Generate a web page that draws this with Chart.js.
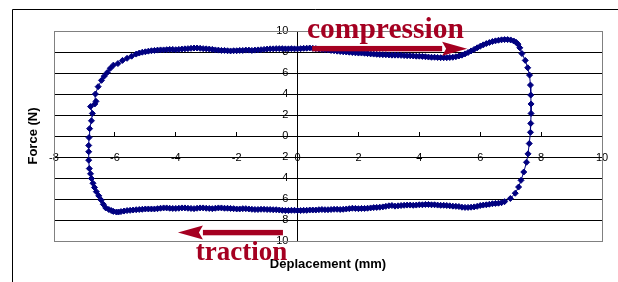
<!DOCTYPE html>
<html>
<head>
<meta charset="utf-8">
<script src="https://cdn.jsdelivr.net/npm/chart.js@4/dist/chart.umd.min.js"></script>
<style>
  body { margin: 0; background: #fff; }
  #wrap { width: 618px; height: 282px; position: relative; }
</style>
</head>
<body>
<div id="wrap"><canvas id="loop_chart"></canvas></div>
<script>
// Loop: compression along the top (left to right),
// down the right side, traction along the bottom (right to left), up the left side
var displacement = [
	0.0, 0.1, 0.2, 0.3, 0.4, 0.5, 0.6, 0.7, 0.8, 0.9,
	1.0, 1.1, 1.2, 1.3, 1.4, 1.5, 1.6, 1.7, 1.8, 1.9,
	2.0, 2.1, 2.2, 2.3, 2.4, 2.5, 2.6, 2.7, 2.8, 2.9,
	3.0, 3.1, 3.2, 3.3, 3.4, 3.5, 3.6, 3.7, 3.8, 3.9,
	4.0, 4.1, 4.2, 4.3, 4.4, 4.5, 4.6, 4.7, 4.8, 4.9,
	5.0, 5.1, 5.2, 5.3, 5.4, 5.5, 5.6, 5.7, 5.8, 5.9,
	6.0, 6.1, 6.2, 6.3, 6.4, 6.5, 6.6, 6.7, 6.8, 6.9,
	7.0, 7.1, 7.18, 7.24,
	7.3, 7.37, 7.48, 7.56, 7.62, 7.65, 7.66, 7.67, 7.67, 7.66, 7.65, 7.61, 7.57, 7.52, 7.43, 7.34, 7.26, 7.15, 6.99, 6.8,
	6.7, 6.6, 6.5, 6.4, 6.3, 6.2, 6.1, 6.0, 5.9, 5.8,
	5.7, 5.6, 5.5, 5.4, 5.3, 5.2, 5.1, 5.0, 4.9, 4.8,
	4.7, 4.6, 4.5, 4.4, 4.3, 4.2, 4.1, 4.0, 3.9, 3.8,
	3.7, 3.6, 3.5, 3.4, 3.3, 3.2, 3.1, 3.0, 2.9, 2.8,
	2.7, 2.6, 2.5, 2.4, 2.3, 2.2, 2.1, 2.0, 1.9, 1.8,
	1.7, 1.6, 1.5, 1.4, 1.3, 1.2, 1.1, 1.0, 0.9, 0.8,
	0.7, 0.6, 0.5, 0.4, 0.3, 0.2, 0.1, 0.0, -0.1, -0.2,
	-0.3, -0.4, -0.5, -0.6, -0.7, -0.8, -0.9, -1.0, -1.1, -1.2,
	-1.3, -1.4, -1.5, -1.6, -1.7, -1.8, -1.9, -2.0, -2.1, -2.2,
	-2.3, -2.4, -2.5, -2.6, -2.7, -2.8, -2.9, -3.0, -3.1, -3.2,
	-3.3, -3.4, -3.5, -3.6, -3.7, -3.8, -3.9, -4.0, -4.1, -4.2,
	-4.3, -4.4, -4.5, -4.6, -4.7, -4.8, -4.9, -5.0, -5.1, -5.2,
	-5.3, -5.4, -5.5, -5.6, -5.7, -5.8, -5.88, -5.95, -6.05, -6.12, -6.2,
	-6.3, -6.38, -6.45, -6.53, -6.61, -6.67, -6.72, -6.77, -6.8, -6.84, -6.86, -6.86, -6.86, -6.85, -6.83, -6.77, -6.74, -6.8, -6.62, -6.66,
	-6.64, -6.55, -6.44, -6.35, -6.25, -6.15, -6.05, -5.9, -5.75, -5.6, -5.45, -5.3,
	-5.2, -5.1, -5.0, -4.9, -4.8, -4.7, -4.6, -4.5, -4.4, -4.3,
	-4.2, -4.1, -4.0, -3.9, -3.8, -3.7, -3.6, -3.5, -3.4, -3.3,
	-3.2, -3.1, -3.0, -2.9, -2.8, -2.7, -2.6, -2.5, -2.4, -2.3,
	-2.2, -2.1, -2.0, -1.9, -1.8, -1.7, -1.6, -1.5, -1.4, -1.3,
	-1.2, -1.1, -1.0, -0.9, -0.8, -0.7, -0.6, -0.5, -0.4, -0.3,
	-0.2, -0.1
];
var force = [
	8.30, 8.32, 8.35, 8.36, 8.38, 8.35, 8.32, 8.28, 8.25, 8.22,
	8.20, 8.15, 8.12, 8.08, 8.05, 8.02, 8.00, 7.98, 7.95, 7.92,
	7.90, 7.90, 7.88, 7.85, 7.82, 7.80, 7.78, 7.76, 7.75, 7.74,
	7.72, 7.70, 7.70, 7.70, 7.68, 7.66, 7.65, 7.64, 7.62, 7.60,
	7.60, 7.58, 7.55, 7.52, 7.50, 7.50, 7.48, 7.46, 7.46, 7.46,
	7.48, 7.50, 7.55, 7.62, 7.70, 7.82, 7.95, 8.10, 8.25, 8.40,
	8.55, 8.68, 8.80, 8.90, 9.00, 9.06, 9.12, 9.16, 9.18, 9.18,
	9.15, 9.05, 8.92, 8.75,
	8.40, 7.85, 7.20, 6.50, 5.80, 4.85, 3.90, 3.05, 2.15, 1.20, 0.35, -0.72, -1.70, -2.50, -3.43, -4.22, -4.86, -5.45, -5.95, -6.25,
	-6.35, -6.40, -6.42, -6.45, -6.50, -6.55, -6.58, -6.62, -6.70, -6.75,
	-6.78, -6.80, -6.80, -6.78, -6.72, -6.70, -6.68, -6.65, -6.62, -6.60,
	-6.60, -6.58, -6.55, -6.55, -6.52, -6.52, -6.55, -6.55, -6.58, -6.60,
	-6.58, -6.58, -6.60, -6.62, -6.65, -6.68, -6.62, -6.65, -6.70, -6.75,
	-6.78, -6.80, -6.82, -6.85, -6.88, -6.90, -6.90, -6.92, -6.90, -6.88,
	-6.92, -6.95, -6.98, -7.00, -6.98, -6.98, -7.00, -7.02, -7.02, -7.00,
	-7.02, -7.05, -7.05, -7.05, -7.08, -7.08, -7.10, -7.10, -7.08, -7.08,
	-7.10, -7.10, -7.08, -7.05, -7.02, -7.02, -7.00, -7.00, -6.98, -6.98,
	-7.00, -7.00, -6.98, -6.95, -6.92, -6.92, -6.95, -6.95, -6.92, -6.90,
	-6.88, -6.88, -6.85, -6.85, -6.88, -6.92, -6.90, -6.88, -6.85, -6.85,
	-6.88, -6.92, -6.90, -6.88, -6.85, -6.85, -6.88, -6.90, -6.90, -6.88,
	-6.85, -6.85, -6.88, -6.92, -6.95, -6.95, -6.95, -6.95, -6.98, -7.00,
	-7.02, -7.05, -7.08, -7.10, -7.15, -7.20, -7.24, -7.24, -7.18, -7.10, -7.00,
	-6.85, -6.50, -6.10, -5.70, -5.30, -4.90, -4.50, -4.05, -3.60, -3.10, -2.30, -1.50, -0.90, -0.15, 0.70, 1.45, 2.15, 2.80, 3.30, 3.05,
	4.00, 4.70, 5.30, 5.70, 6.05, 6.45, 6.75, 6.90, 7.20, 7.40, 7.60, 7.80,
	7.90, 7.98, 8.02, 8.08, 8.12, 8.15, 8.18, 8.20, 8.20, 8.22,
	8.25, 8.25, 8.22, 8.25, 8.28, 8.30, 8.32, 8.35, 8.38, 8.38,
	8.35, 8.32, 8.30, 8.28, 8.25, 8.20, 8.18, 8.15, 8.15, 8.12,
	8.10, 8.12, 8.12, 8.15, 8.15, 8.18, 8.18, 8.15, 8.18, 8.20,
	8.22, 8.25, 8.28, 8.30, 8.30, 8.32, 8.32, 8.32, 8.30, 8.30,
	8.32, 8.30
];

var xTicks = [-8, -6, -4, -2, 0, 2, 4, 6, 8, 10];
var yTicks = [-10, -8, -6, -4, -2, 0, 2, 4, 6, 8, 10];

var xTitle = 'Deplacement (mm)';
var yTitle = 'Force (N)';
var arrowLabels = ['compression', 'traction'];

var navy = '#000080';
var arrowRed = '#a50021';

function drawArrow(ctx, xFrom, xTo, y)
{
	// Shaft and head, head at xTo
	var dir = xTo > xFrom ? 1 : -1;
	var headLen = 25;
	var headHalf = 7;
	var shaftHalf = 2.7;
	var base = xTo - dir * headLen;
	ctx.fillStyle = arrowRed;
	ctx.fillRect(Math.min(xFrom, base), y - shaftHalf, Math.abs(base - xFrom), shaftHalf * 2);
	ctx.beginPath();
	ctx.moveTo(xTo, y);
	ctx.lineTo(base, y - headHalf);
	ctx.lineTo(base + dir * 4, y);
	ctx.lineTo(base, y + headHalf);
	ctx.closePath();
	ctx.fill();
}

var decorPlugin = {
	id: 'decor',
	beforeDraw: function(chart)
	{
		var ctx = chart.ctx;
		ctx.save();
		ctx.fillStyle = '#fff';
		ctx.fillRect(0, 0, chart.width, chart.height);
		ctx.restore();
	},
	afterDraw: function(chart)
	{
		var ctx = chart.ctx;
		var a = chart.chartArea;
		var xs = chart.scales.x;
		var ys = chart.scales.y;
		ctx.save();

		// grey plot border
		ctx.strokeStyle = '#808080';
		ctx.lineWidth = 1;
		ctx.strokeRect(Math.round(a.left) + 0.5, Math.round(a.top) + 0.5, Math.round(a.right - a.left), Math.round(a.bottom - a.top));

		// outer frame (cut by the picture edge)
		ctx.strokeStyle = '#000';
		ctx.beginPath();
		ctx.moveTo(12.5, chart.height);
		ctx.lineTo(12.5, 9.5);
		ctx.lineTo(chart.width, 9.5);
		ctx.stroke();

		// axis titles
		ctx.fillStyle = '#000';
		ctx.font = 'bold 13px Arial, "Liberation Sans", sans-serif';
		ctx.textAlign = 'center';
		ctx.textBaseline = 'middle';
		ctx.fillText(xTitle, (a.left + a.right) / 2, 264);
		ctx.save();
		ctx.translate(33, (a.top + a.bottom) / 2);
		ctx.rotate(-Math.PI / 2);
		ctx.fillText(yTitle, 0, 0);
		ctx.restore();

		// direction arrows
		drawArrow(ctx, xs.getPixelForValue(0.48), xs.getPixelForValue(5.57), ys.getPixelForValue(8.32));
		drawArrow(ctx, xs.getPixelForValue(-0.48), xs.getPixelForValue(-3.93), ys.getPixelForValue(-9.2));

		ctx.fillStyle = arrowRed;
		ctx.textAlign = 'left';
		ctx.textBaseline = 'alphabetic';
		ctx.font = 'bold 29.5px "Liberation Serif", "Times New Roman", serif';
		ctx.fillText(arrowLabels[0], xs.getPixelForValue(0.31), 38);
		ctx.font = 'bold 27px "Liberation Serif", "Times New Roman", serif';
		ctx.fillText(arrowLabels[1], xs.getPixelForValue(-3.34), 260);

		ctx.restore();
	}
};

function start()
{
	var points = displacement.map(function (x, i) { return {x: x, y: force[i]}; });
	var tickFont = {family: 'Arial, "Liberation Sans", sans-serif', size: 11};

	new Chart(document.getElementById('loop_chart').getContext('2d'), {
		type: 'scatter',
		data: {
			datasets: [{
				data: points,
				showLine: true,
				borderColor: navy,
				borderWidth: 1,
				backgroundColor: navy,
				pointStyle: 'rectRot',
				pointRadius: 3,
				pointBorderWidth: 1,
				pointBorderColor: navy,
				pointBackgroundColor: navy,
				tension: 0
			}]
		},
		options: {
			responsive: true,
			maintainAspectRatio: false,
			animation: false,
			layout: { padding: {left: 54, right: 16, top: 31, bottom: 41} },
			plugins: {
				legend: { display: false },
				tooltip: { enabled: false }
			},
			scales: {
				x: {
					type: 'linear',
					position: {y: 0},
					min: xTicks[0],
					max: xTicks[xTicks.length - 1],
					afterBuildTicks: function (axis) { axis.ticks = xTicks.map(function (v) { return {value: v}; }); },
					// labels may overhang the plot, the layout padding already leaves room
					afterFit: function (axis) { axis.paddingLeft = 0; axis.paddingRight = 0; },
					ticks: { color: '#000', font: tickFont, autoSkip: false, maxRotation: 0, padding: 20 },
					grid: { drawOnChartArea: false, drawTicks: true, tickLength: -5, color: '#000' },
					border: { display: true, color: '#000', width: 1 }
				},
				y: {
					type: 'linear',
					position: {x: 0},
					min: yTicks[0],
					max: yTicks[yTicks.length - 1],
					afterBuildTicks: function (axis) { axis.ticks = yTicks.map(function (v) { return {value: v}; }); },
					// the axis sits inside the plot, so it should not take room at the side
					afterFit: function (axis) { axis.width = 0; },
					ticks: {
						color: '#000',
						font: tickFont,
						autoSkip: false,
						callback: function (v) { return v + '   '; }
					},
					grid: {
						tickLength: 4,
						color: function (c) { return (c.tick && Math.abs(c.tick.value) === 10) ? 'rgba(0,0,0,0)' : '#000'; }
					},
					border: { display: true, color: '#000', width: 1 }
				}
			}
		},
		plugins: [decorPlugin]
	});
}

start();
</script>
</body>
</html>
